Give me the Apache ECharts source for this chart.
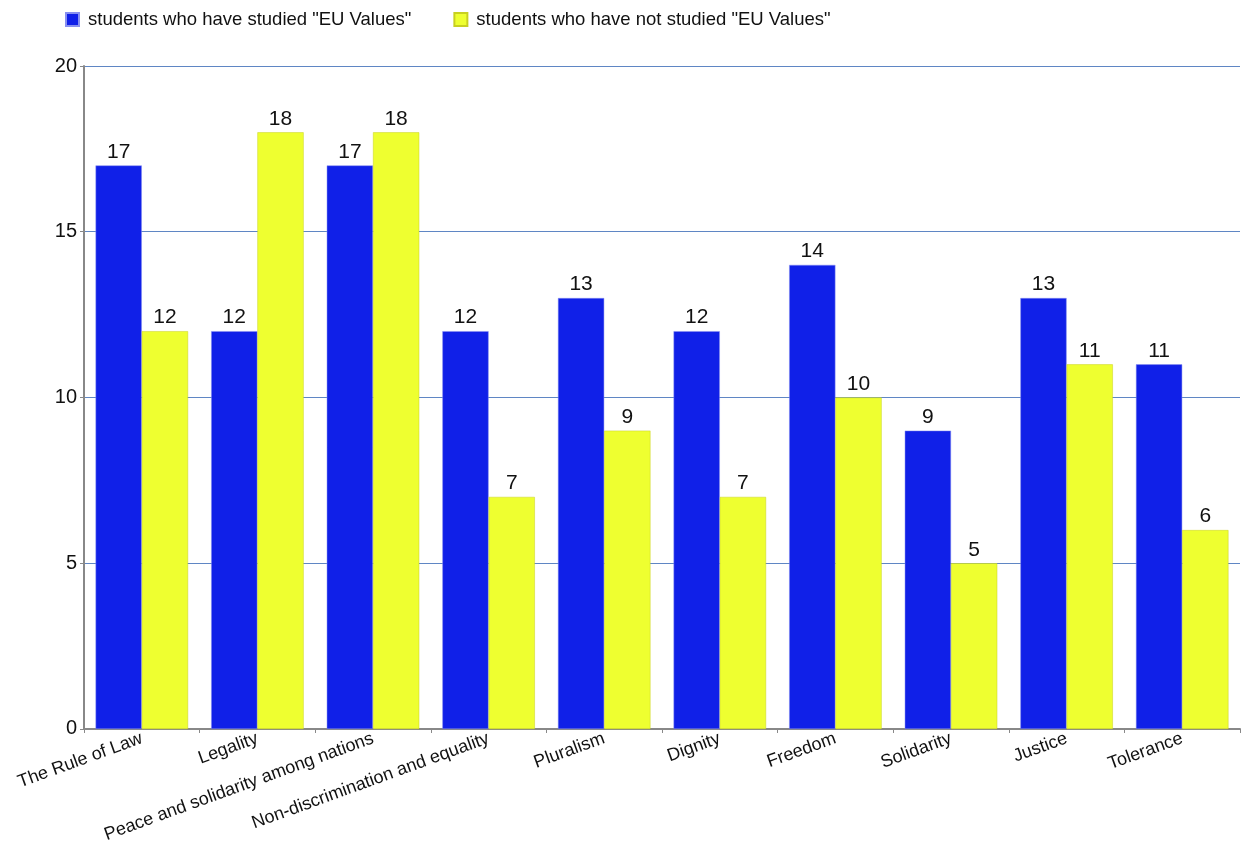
<!DOCTYPE html>
<html><head><meta charset="utf-8">
<script src="https://cdn.jsdelivr.net/npm/echarts@6/dist/echarts.min.js"></script>
<style>html,body{margin:0;padding:0;background:#fff}#c{width:1241px;height:845px}</style>
</head><body><div id="c"></div>
<script>
const categories = ["The Rule of Law","Legality","Peace and solidarity among nations","Non-discrimination and equality","Pluralism","Dignity","Freedom","Solidarity","Justice","Tolerance"];
const studied = [17,12,17,12,13,12,14,9,13,11];
const notStudied = [12,18,18,7,9,7,10,5,11,6];
const seriesNames = ['students who have studied "EU Values"','students who have not studied "EU Values"'];
const yTicks = [0,5,10,15,20];

const chart = echarts.init(document.getElementById('c'));
const font = '"Liberation Sans", Arial, sans-serif';
const lbl = {show:true, position:'top', color:'#111', fontSize:21, fontFamily:font, distance:3};
chart.setOption({
  animation:false,
  legend:{left:60, top:5, itemWidth:13, itemHeight:13, itemGap:42,
    textStyle:{fontSize:18.5, fontFamily:font, color:'#111', padding:[0,0,0,4]}, icon:'rect'},
  grid:{left:84, top:66, right:1, bottom:113},
  xAxis:{type:'category', data:categories,
    axisLine:{lineStyle:{color:'#888', width:2}},
    axisTick:{show:true, length:4, lineStyle:{color:'#888'}},
    axisLabel:{rotate:20, interval:0, fontSize:18, fontFamily:font, color:'#111', margin:9}},
  yAxis:{type:'value', min:yTicks[0], max:yTicks[yTicks.length-1], interval:5,
    axisLine:{show:true, lineStyle:{color:'#888', width:2}},
    axisTick:{show:true, length:4, lineStyle:{color:'#888'}},
    axisLabel:{fontSize:20, fontFamily:font, color:'#111', margin:7},
    splitLine:{lineStyle:{color:'#5f86c4', width:1}}},
  series:[
    {name:seriesNames[0], type:'bar', data:studied, barGap:'0%', barCategoryGap:'20%',
     itemStyle:{color:'#1020e8', borderColor:'#8890f0', borderWidth:0.5}, label:lbl},
    {name:seriesNames[1], type:'bar', data:notStudied, barGap:'0%', barCategoryGap:'20%',
     itemStyle:{color:'#eeff30', borderColor:'#c8d020', borderWidth:0.5}, label:lbl}
  ]
});
</script></body></html>
